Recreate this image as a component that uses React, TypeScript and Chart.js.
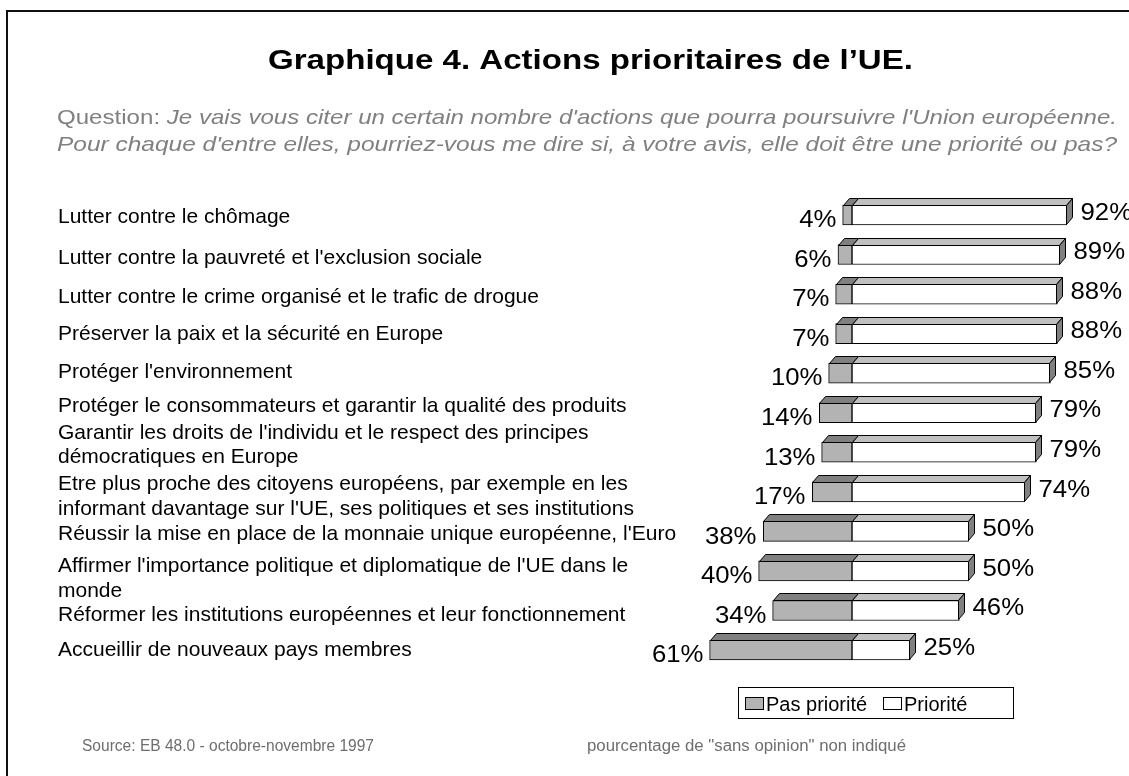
import React, { useEffect, useRef } from "react";
import { Chart, registerables } from "chart.js";

Chart.register(...registerables);

// ---------- data ----------
const CATEGORIES: string[][] = [
  ["Lutter contre le chômage"],
  ["Lutter contre la pauvreté et l'exclusion sociale"],
  ["Lutter contre le crime organisé et le trafic de drogue"],
  ["Préserver la paix et la sécurité en Europe"],
  ["Protéger l'environnement"],
  ["Protéger le consommateurs et garantir la qualité des produits"],
  ["Garantir les droits de l'individu et le respect des principes", "démocratiques en Europe"],
  ["Etre plus proche des citoyens européens, par exemple en les", "informant davantage sur l'UE, ses politiques et ses institutions"],
  ["Réussir la mise en place de la monnaie unique européenne, l'Euro"],
  ["Affirmer l'importance politique et diplomatique de l'UE dans le", "monde"],
  ["Réformer les institutions européennes et leur fonctionnement"],
  ["Accueillir de nouveaux pays membres"],
];
const PAS_PRIORITE = [4, 6, 7, 7, 10, 14, 13, 17, 38, 40, 34, 61];
const PRIORITE = [92, 89, 88, 88, 85, 79, 79, 74, 50, 50, 46, 25];
const SERIES_NAMES = ["Pas priorité", "Priorité"];

const TITLE = "Graphique 4. Actions prioritaires de l\u2019UE.";
const QUESTION_LABEL = "Question: ";
const QUESTION_LINE1 = "Je vais vous citer un certain nombre d'actions que pourra poursuivre l'Union européenne.";
const QUESTION_LINE2 = "Pour chaque d'entre elles, pourriez-vous me dire si, à votre avis, elle doit être une priorité ou pas?";
const SOURCE = "Source: EB 48.0 - octobre-novembre 1997";
const NOTE = 'pourcentage de "sans opinion" non indiqué';

// ---------- layout / style (not data) ----------
const W = 1129;
const H = 776;
const FONT = "'Liberation Sans', Arial, Helvetica, sans-serif";
const LABEL_NUDGE = [1, 2, 1, -1, -3, -8, -9, 3, 1, 6, 3, -2];
const DX = 6;
const DY = 7;
const COL_PAS_FRONT = "#b3b3b3";
const COL_PAS_TOP = "#808080";
const COL_PRI_FRONT = "#ffffff";
const COL_PRI_TOP = "#c0c0c0";
const COL_SIDE = "#808080";

function drawCap(
  ctx: CanvasRenderingContext2D,
  text: string,
  x: number,
  capMid: number,
  size: number,
  opts: { weight?: string; style?: string; align?: CanvasTextAlign; color?: string; sx?: number; width?: number } = {}
) {
  const { weight = "normal", style = "normal", align = "left", color = "#000", sx = 1, width } = opts;
  ctx.save();
  ctx.font = `${style} ${weight} ${size}px ${FONT}`;
  const w = ctx.measureText(text).width;
  const s = width ? width / w : sx;
  ctx.fillStyle = color;
  ctx.textAlign = align;
  ctx.textBaseline = "alphabetic";
  ctx.translate(x, capMid + 0.358 * size);
  ctx.scale(s, 1);
  ctx.fillText(text, 0, 0);
  ctx.restore();
}

const decoPlugin = {
  id: "deco",
  beforeDraw(chart: any) {
    const ctx: CanvasRenderingContext2D = chart.ctx;
    ctx.save();
    ctx.fillStyle = "#fff";
    ctx.fillRect(0, 0, W, H);
    ctx.strokeStyle = "#111";
    ctx.lineWidth = 2;
    ctx.strokeRect(7, 11, W + 20, H + 20);
    ctx.restore();

    drawCap(ctx, TITLE, 268, 58.5, 28, { weight: "bold", width: 645 });

    const gray = "#808080";
    const size = 21;
    ctx.save();
    ctx.font = `normal normal ${size}px ${FONT}`;
    const w1 = ctx.measureText(QUESTION_LABEL).width;
    ctx.font = `italic normal ${size}px ${FONT}`;
    const w2 = ctx.measureText(QUESTION_LINE1).width;
    const s1 = (1117 - 57) / (w1 + w2);
    ctx.restore();
    drawCap(ctx, QUESTION_LABEL, 57, 116, size, { color: gray, sx: s1 });
    drawCap(ctx, QUESTION_LINE1, 57 + w1 * s1, 116, size, { color: gray, style: "italic", sx: s1 });
    drawCap(ctx, QUESTION_LINE2, 57, 143, size, { color: gray, style: "italic", width: 1117 - 57 });

    drawCap(ctx, SOURCE, 82, 745, 16, { color: "#6e6e6e", width: 292 });
    drawCap(ctx, NOTE, 587, 745, 16, { color: "#6e6e6e", width: 319 });
  },
  afterDatasetsDraw(chart: any) {
    const ctx: CanvasRenderingContext2D = chart.ctx;
    const m0 = chart.getDatasetMeta(0);
    const m1 = chart.getDatasetMeta(1);
    ctx.save();
    ctx.lineWidth = 1;
    ctx.strokeStyle = "#000";
    const face = (l: number, r: number, t: number, fill: string) => {
      ctx.beginPath();
      ctx.moveTo(l, t);
      ctx.lineTo(l + DX, t - DY);
      ctx.lineTo(r + DX, t - DY);
      ctx.lineTo(r, t);
      ctx.closePath();
      ctx.fillStyle = fill;
      ctx.fill();
      ctx.stroke();
    };
    const side = (r: number, t: number, b: number, fill: string) => {
      ctx.beginPath();
      ctx.moveTo(r, t);
      ctx.lineTo(r + DX, t - DY);
      ctx.lineTo(r + DX, b - DY);
      ctx.lineTo(r, b);
      ctx.closePath();
      ctx.fillStyle = fill;
      ctx.fill();
      ctx.stroke();
    };
    for (let i = 0; i < CATEGORIES.length; i++) {
      const a = m0.data[i].getProps(["x", "y", "base", "height"], true);
      const b = m1.data[i].getProps(["x", "y", "base", "height"], true);
      const top = Math.round(a.y - a.height / 2) + 0.5;
      const bot = Math.round(a.y + a.height / 2) - 0.5;
      const l0 = Math.round(Math.min(a.x, a.base)) + 0.5;
      const r0 = Math.round(Math.max(a.x, a.base)) + 0.5;
      const l1 = Math.round(Math.min(b.x, b.base)) + 0.5;
      const r1 = Math.round(Math.max(b.x, b.base)) - 0.5;
      face(l0, r0, top, COL_PAS_TOP);
      face(l1, r1, top, COL_PRI_TOP);
      side(r1, top, bot, COL_SIDE);

      drawCap(ctx, `${PAS_PRIORITE[i]}%`, l0 - 7, a.y + 4, 23, { align: "right", sx: 1.12 });
      drawCap(ctx, `${PRIORITE[i]}%`, r1 + DX + 8, a.y - 3.5, 23, { align: "left", sx: 1.12 });

      const lines = CATEGORIES[i];
      const lh = 24.5;
      const mid = a.y + LABEL_NUDGE[i];
      lines.forEach((ln, k) => {
        drawCap(ctx, ln, 58, mid - ((lines.length - 1) * lh) / 2 + k * lh, 21);
      });
    }
    ctx.restore();

    ctx.save();
    ctx.lineWidth = 1;
    ctx.strokeStyle = "#000";
    ctx.strokeRect(738.5, 687.5, 275, 31);
    const items = [
      { x: 745, color: COL_PAS_FRONT, text: SERIES_NAMES[0] },
      { x: 883, color: COL_PRI_FRONT, text: SERIES_NAMES[1] },
    ];
    for (const it of items) {
      ctx.fillStyle = it.color;
      ctx.fillRect(it.x + 0.5, 697.5, 18, 12);
      ctx.strokeRect(it.x + 0.5, 697.5, 18, 12);
      drawCap(ctx, it.text, it.x + 21, 703.5, 20);
    }
    ctx.restore();
  },
};

export default function App() {
  const ref = useRef<HTMLCanvasElement | null>(null);
  useEffect(() => {
    if (!ref.current) return;
    const K = 2.334;
    const ZERO = 852;
    const XMIN = -65;
    const XMAX = 110;
    const left = ZERO + XMIN * K;
    const right = ZERO + XMAX * K;
    const chart = new Chart(ref.current, {
      type: "bar",
      data: {
        labels: CATEGORIES.map((c) => c.join(" ")),
        datasets: [
          {
            label: SERIES_NAMES[0],
            data: PAS_PRIORITE.map((v) => -v),
            backgroundColor: COL_PAS_FRONT,
            borderColor: "#000",
            borderWidth: 1,
            borderSkipped: false,
            barThickness: 20,
          },
          {
            label: SERIES_NAMES[1],
            data: PRIORITE,
            backgroundColor: COL_PRI_FRONT,
            borderColor: "#000",
            borderWidth: 1,
            borderSkipped: false,
            barThickness: 20,
          },
        ],
      },
      options: {
        indexAxis: "y",
        responsive: false,
        maintainAspectRatio: false,
        animation: false,
        layout: { padding: { left, right: W - right, top: 195.2, bottom: H - 669.8 } },
        scales: {
          x: { type: "linear", min: XMIN, max: XMAX, stacked: true, display: false },
          y: { type: "category", stacked: true, display: false },
        },
        plugins: { legend: { display: false }, tooltip: { enabled: false }, title: { display: false } },
      },
      plugins: [decoPlugin],
    });
    return () => chart.destroy();
  }, []);
  return (
    <div style={{ position: "absolute", left: 0, top: 0, width: W, height: H }}>
      <canvas ref={ref} width={W} height={H} style={{ display: "block", width: W, height: H }} />
    </div>
  );
}
